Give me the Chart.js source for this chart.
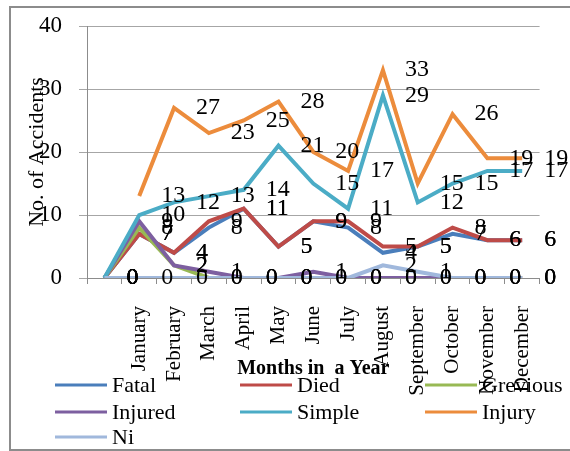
<!DOCTYPE html>
<html>
<head>
<meta charset="utf-8">
<script src="https://cdn.jsdelivr.net/npm/chart.js@4.4.1/dist/chart.umd.min.js"></script>
<style>
  html, body { margin: 0; padding: 0; background: #ffffff; }
  #wrap { position: relative; width: 570px; height: 451px; overflow: hidden; background: #ffffff; }
  #frame { position: absolute; left: 9px; top: 6px; width: 566px; height: 441px; border: 2px solid #8c8c8c; box-sizing: content-box; pointer-events: none; }
  canvas { position: absolute; left: 0; top: 0; }
</style>
</head>
<body>
<div id="wrap">
  <canvas id="c" width="570" height="451"></canvas>
  <div id="frame"></div>
</div>
<script>
// ---- data ----
const months = ['January','February','March','April','May','June','July','August','September','October','November','December'];
const categories = [''].concat(months);
const seriesNames = ['Fatal','Died','Grevious','Injured','Simple','Injury','Ni'];
const fatal    = [0, 7, 4, 8, 11, 5, 9, 8, 4, 5, 7, 6, 6];
const died     = [0, 7, 4, 9, 11, 5, 9, 9, 5, 5, 8, 6, 6];
const grevious = [0, 8, 2, 0, 0, 0, 0, 0, 0, 0, 0, 0, 0];
const injured  = [0, 9, 2, 1, 0, 0, 1, 0, 0, 0, 0, 0, 0];
const simple   = [0, 10, 12, 13, 14, 21, 15, 11, 29, 12, 15, 17, 17];
const injury   = [null, 13, 27, 23, 25, 28, 20, 17, 33, 15, 26, 19, 19];
const ni       = [0, 0, 0, 0, 0, 0, 0, 0, 2, 1, 0, 0, 0];
const yMin = 0, yMax = 40, yStep = 10;
const yTitle = 'No. of Accidents';
const xTitle = 'Months in  a Year';

// ---- styles ----
const FONT = "'Liberation Serif', 'Times New Roman', serif";
const colors = ['#4A7EBB', '#BE4B48', '#98B954', '#7D5FA0', '#4BACC6', '#EC8C3C', '#A0B8DC'];
const seriesData = [fatal, died, grevious, injured, simple, injury, ni];

const datasets = seriesNames.map((name, i) => ({
  label: name,
  data: seriesData[i],
  borderColor: colors[i],
  backgroundColor: colors[i],
  borderWidth: 4,
  pointRadius: 0,
  pointHoverRadius: 0,
  tension: 0,
  fill: false,
  spanGaps: false,
  xAxisID: 'x',
  yAxisID: 'y',
  order: seriesNames.length - i
}));

const labelFont = Chart.helpers.toFont({ family: FONT, size: 24 });
const legendFont = Chart.helpers.toFont({ family: FONT, size: 22 });

const valueLabels = {
  id: 'valueLabels',
  afterDatasetsDraw(chart) {
    const ctx = chart.ctx;
    ctx.save();
    ctx.font = labelFont.string;
    ctx.fillStyle = '#000000';
    ctx.textAlign = 'left';
    ctx.textBaseline = 'middle';
    chart.data.datasets.forEach((ds, di) => {
      const meta = chart.getDatasetMeta(di);
      meta.data.forEach((pt, i) => {
        const v = ds.data[i];
        if (v === null || v === undefined) return;
        ctx.fillText(String(v), pt.x + 22, pt.y);
      });
    });
    ctx.restore();
  }
};

const gridLegend = {
  id: 'gridLegend',
  afterDraw(chart) {
    const ctx = chart.ctx;
    const colX = [55, 240, 425];
    const rowY = [385, 412, 437];
    ctx.save();
    ctx.font = legendFont.string;
    ctx.textAlign = 'left';
    ctx.textBaseline = 'middle';
    chart.data.datasets.forEach((ds, i) => {
      const x = colX[i % 3];
      const y = rowY[Math.floor(i / 3)];
      ctx.strokeStyle = ds.borderColor;
      ctx.lineWidth = 3;
      ctx.beginPath();
      ctx.moveTo(x, y);
      ctx.lineTo(x + 52, y);
      ctx.stroke();
      ctx.fillStyle = '#000000';
      ctx.fillText(ds.label, x + 57, y + 1);
    });
    ctx.restore();
  }
};

new Chart(document.getElementById('c'), {
  type: 'line',
  data: { labels: categories, datasets },
  options: {
    responsive: false,
    animation: false,
    devicePixelRatio: 1,
    layout: { padding: { left: 20, top: 26, right: 16, bottom: 50 } },
    plugins: {
      legend: { display: false },
      tooltip: { enabled: false }
    },
    scales: {
      x: {
        type: 'category',
        position: 'bottom',
        offset: true,
        grid: { display: true, drawOnChartArea: false, drawTicks: true, tickLength: 6, color: '#8c8c8c', offset: true },
        border: { display: true, color: '#8c8c8c', width: 1 },
        ticks: {
          autoSkip: false, minRotation: 90, maxRotation: 90, padding: 22,
          color: '#000000', font: { family: FONT, size: 21 }
        },
        title: { display: true, text: xTitle, color: '#000000', font: { family: FONT, size: 20, weight: 'bold' }, padding: { top: 4, bottom: 20 } },
        afterFit(s) { s.height = 123; }
      },
      y: {
        position: 'left',
        min: yMin, max: yMax,
        grid: { color: '#a6a6a6', lineWidth: 1, tickLength: 8, drawTicks: true },
        border: { display: true, color: '#8c8c8c', width: 1 },
        ticks: { stepSize: yStep, padding: 17, color: '#000000', font: { family: FONT, size: 23 } },
        title: { display: true, text: yTitle, color: '#000000', font: { family: FONT, size: 22 }, padding: { top: 4, bottom: 4 } },
        afterFit(s) { s.width = 67; s.paddingTop = 8; s.paddingBottom = 8; }
      }
    }
  },
  plugins: [valueLabels, gridLegend]
});
</script>
</body>
</html>
